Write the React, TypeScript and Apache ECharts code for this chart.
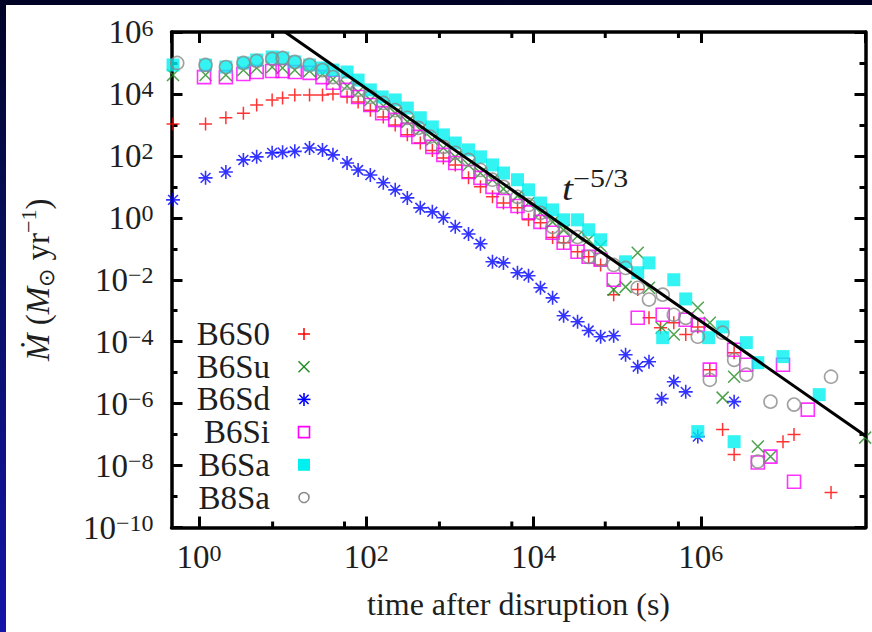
import React, { useEffect, useRef } from 'react';
import * as echarts from 'echarts';

const FONT = '"Liberation Serif", "Times New Roman", serif';
const TEXT = '#1e1e1e';

const SERIES_NAMES = ['B6S0', 'B6Su', 'B6Sd', 'B6Si', 'B6Sa', 'B8Sa'];

// [time after disruption (s), Mdot (Msun/yr)]
const B6S0: [number, number][] = [
  [0.49, 1070], [1.2, 1070], [2.1, 1700], [3.4, 2400], [4.9, 4400], [7.5, 6400], [10, 7400], [14, 9300],
  [21, 9300], [30, 9300], [40, 1.0e4], [59, 8.0e3], [80, 5.5e3], [112, 3.0e3], [160, 1.8e3], [222, 1.0e3],
  [310, 480], [443, 260], [617, 150], [836, 86], [1160, 51], [1670, 19.5], [2320, 10], [3230, 4.75],
  [4370, 3.0], [6430, 2.1], [8710, 0.86], [12100, 0.69], [16900, 0.23], [22900, 0.156], [33600, 0.08],
  [45600, 0.055], [63400, 0.03], [90800, 0.0033], [1.76e5, 0.0048], [2.4e5, 5.9e-4], [3.3e5, 2.8e-4],
  [4.75e5, 4.1e-4], [6.6e5, 1.7e-4], [9.2e5, 3.0e-4], [1.28e6, 1.25e-5], [1.82e6, 1.45e-7], [2.5e6, 4.4e-5],
  [2.5e6, 2.26e-8], [9.6e6, 5.9e-8], [1.3e7, 1.0e-7], [3.6e7, 1.35e-9],
];
const B6Su: [number, number][] = [
  [0.49, 4.1e4], [1.2, 4.1e4], [2.1, 4.1e4], [3.4, 5.9e4], [4.9, 6.9e4], [7.5, 7.4e4], [10, 6.9e4], [14, 5.9e4],
  [21, 5.5e4], [30, 4.4e4], [40, 3.0e4], [59, 1.8e4], [80, 1.16e4], [112, 6.4e3], [160, 4.1e3], [222, 2.4e3],
  [310, 1.25e3], [443, 690], [617, 340], [836, 180], [1160, 93], [1670, 51], [2320, 28], [3230, 17],
  [4370, 8.6], [6430, 5.1], [8710, 3.0], [12100, 1.45], [16900, 0.74], [22900, 0.4], [33600, 0.26],
  [45600, 0.195], [63400, 0.12], [90800, 0.0048], [1.26e5, 0.0059], [1.76e5, 0.074], [2.4e5, 0.0055],
  [3.4e5, 2.8e-4], [4.75e5, 1.7e-4], [9.2e5, 1.25e-3], [1.28e6, 4.1e-4], [1.82e6, 1.56e-6], [2.5e6, 7.4e-6],
  [4.8e6, 4.1e-8], [6.8e6, 1.95e-8], [9.2e7, 8.0e-8],
];
const B6Sd: [number, number][] = [
  [0.49, 3.8], [1.2, 19.5], [2.1, 30], [3.4, 74], [4.9, 93], [7.5, 125], [10, 130], [14, 140], [21, 180],
  [30, 156], [40, 108], [59, 59], [80, 35], [112, 24], [160, 13.5], [222, 8], [310, 4.4], [443, 2.1],
  [617, 1.56], [836, 1.0], [1160, 0.51], [1670, 0.3], [2320, 0.145], [3230, 0.038], [4370, 0.035],
  [6430, 0.0168], [8710, 0.0135], [12100, 0.0055], [16900, 0.0026], [22900, 6.9e-4], [33600, 4.4e-4],
  [45600, 2.3e-4], [63400, 1.45e-4], [90800, 1.56e-4], [1.26e5, 3.8e-5], [1.76e5, 1.56e-5], [2.4e5, 2.26e-5],
  [3.4e5, 1.45e-6], [4.75e5, 5.1e-6], [6.6e5, 2.4e-6], [9.2e5, 8.6e-8], [2.5e6, 1.16e-6],
];
const B6Si: [number, number][] = [
  [0.45, 3.5e4], [1.15, 3.5e4], [2.1, 3.5e4], [3.4, 4.4e4], [4.9, 5.1e4], [7.5, 5.5e4], [10, 5.5e4], [14, 5.1e4],
  [21, 4.8e4], [30, 3.5e4], [40, 2.3e4], [59, 1.35e4], [80, 8.0e3], [112, 4.4e3], [155, 2.4e3], [222, 1.45e3],
  [310, 690], [420, 410], [617, 195], [836, 108], [1160, 59], [1670, 30], [2320, 19.5], [3230, 10],
  [4370, 3.5], [6430, 2.4], [8710, 1.5], [12100, 0.74], [16900, 0.33], [22900, 0.156], [33600, 0.08],
  [45600, 0.055], [63400, 0.044], [90800, 0.01], [1.76e5, 5.9e-4], [3.5e5, 7.4e-4], [6.6e5, 5.1e-4],
  [9.2e5, 3.5e-4], [1.28e6, 1.25e-5], [2.5e6, 5.5e-5], [3.5e6, 1.8e-5], [4.8e6, 1.25e-8], [6.8e6, 1.95e-8],
  [9.6e6, 1.8e-5], [1.3e7, 3.0e-9], [1.9e7, 6.4e-7],
];
const B6Sa: [number, number][] = [
  [0.49, 8.6e4], [1.2, 8.6e4], [2.1, 7.4e4], [3.4, 1.0e5], [4.9, 1.25e5], [7.5, 1.56e5], [10, 1.45e5], [14, 1.08e5],
  [21, 8.6e4], [30, 6.9e4], [40, 5.9e4], [59, 5.1e4], [80, 2.8e4], [112, 1.35e4], [155, 8.0e3], [222, 6.4e3],
  [310, 3.5e3], [443, 1.7e3], [617, 860], [836, 475], [1160, 260], [1670, 156], [2320, 93], [3230, 51],
  [4370, 28], [6430, 17], [8710, 8.0], [12100, 3.0], [16900, 1.8], [22900, 0.86], [33600, 0.86], [45600, 0.41],
  [63400, 0.195], [1.26e5, 0.038], [1.76e5, 0.0168], [2.4e5, 0.035], [3.5e5, 1.35e-4], [4.75e5, 0.01],
  [6.6e5, 0.0024], [9.2e5, 1.25e-7], [1.24e6, 1.35e-4], [1.82e6, 3.0e-4], [2.5e6, 5.9e-8], [3.5e6, 9.3e-5],
  [4.8e6, 2.1e-5], [9.6e6, 3.3e-5], [2.6e7, 1.95e-6],
];
const B8Sa: [number, number][] = [
  [0.55, 1.0e5], [1.2, 8.6e4], [2.1, 7.4e4], [3.4, 1.0e5], [4.9, 1.16e5], [7.5, 1.35e5], [10, 1.45e5], [14, 1.08e5],
  [21, 8.6e4], [30, 5.9e4], [40, 3.5e4], [59, 2.3e4], [80, 1.35e4], [112, 8.0e3], [160, 5.1e3], [222, 3.0e3],
  [310, 1.7e3], [420, 800], [580, 420], [836, 195], [1160, 125], [1670, 74], [2320, 35], [3230, 17],
  [4370, 10], [6430, 4.75], [8710, 2.6], [12100, 1.45], [16900, 0.51], [22900, 0.24], [33600, 0.24],
  [45600, 0.055], [63400, 0.044], [90800, 0.03], [1.26e5, 0.024], [1.76e5, 0.0055], [2.4e5, 0.0023],
  [3.5e5, 0.0033], [4.75e5, 7.4e-4], [6.6e5, 5.9e-4], [9.2e5, 1.45e-4], [1.28e6, 5.9e-6], [1.82e6, 1.95e-4],
  [2.5e6, 2.6e-5], [3.5e6, 8.6e-6], [4.8e6, 1.35e-8], [6.8e6, 1.16e-6], [1.3e7, 9.3e-7], [3.6e7, 7.4e-6],
];
// reference power law drawn as a straight line
const POWER_LAW: [number, number][] = [[10.7, 1e6], [1.0e8, 8.0e-8]];

const X_MIN = 0.47;
const X_MAX = 9.3e7;
const Y_MIN = 1e-10;
const Y_MAX = 1e6;
const X_MINOR_TICKS = [7.6, 55, 750, 5500, 7.2e4, 5.4e5];

const X_TITLE = 'time after disruption (s)';
const Y_TITLE = '{i|\u1E40} ({i|M}{sub|\u2299} yr{sup|\u22121})';
const POWER_LABEL = '{t|t}{s|\u22125/3}';

const L = Math.log10;

const PLUS = 'path://M0,6L12,6M6,0L6,12';
const CROSS = 'path://M0,0L12,12M12,0L0,12';
const STAR = 'path://M0,6L12,6M6,0L6,12M1.8,1.8L10.2,10.2M10.2,1.8L1.8,10.2';

const COLORS = ['#ff0000', '#228b22', '#0000ff', '#ff00ff', '#00f0f0', '#8a8a8a'];

function tickLabel(v: number): string {
  const n = Math.round(v);
  if (Math.abs(v - n) > 1e-6) return '';
  const e = n < 0 ? '\u2212' + -n : String(n);
  return '{a|10}{b|' + e + '}';
}

const labelRich = {
  a: { fontSize: 33, fontFamily: FONT, color: TEXT, lineHeight: 33 },
  b: { fontSize: 24, fontFamily: FONT, color: TEXT, lineHeight: 22, verticalAlign: 'top' },
};

export default function App() {
  const ref = useRef<HTMLDivElement>(null);
  useEffect(() => {
    if (!ref.current) return;
    const chart = echarts.init(ref.current, undefined, { renderer: 'svg' });
    const axisLine = { show: true, onZero: false, lineStyle: { color: '#000', width: 3.5 } };
    const axisTick = { show: true, inside: true, length: 11, lineStyle: { color: '#000', width: 3 } };
    const minorTick = { show: true, splitNumber: 2, length: 6, lineStyle: { color: '#000', width: 3 } };

    const scatter = (i: number, data: [number, number][], symbol: string, size: number, itemStyle: any) => ({
      type: 'scatter',
      name: SERIES_NAMES[i],
      data: data.map(([t, v]) => [L(t), L(v)]),
      symbol,
      symbolSize: size,
      itemStyle,
      silent: true,
      clip: true,
      z: 2 + i,
    });

    chart.setOption({
      animation: false,
      backgroundColor: 'transparent',
      grid: { left: 165.5, right: 6.5, top: 27, bottom: 104.5, containLabel: false },
      xAxis: [
        {
          type: 'value', min: L(X_MIN), max: L(X_MAX), splitNumber: 4,
          axisLine, axisTick, splitLine: { show: false },
          axisLabel: { formatter: tickLabel, rich: labelRich, margin: 13, showMinLabel: false, showMaxLabel: false },
          name: X_TITLE, nameLocation: 'middle', nameGap: 60,
          nameTextStyle: { fontSize: 32, fontFamily: FONT, color: TEXT },
        },
        {
          type: 'value', position: 'top', min: L(X_MIN), max: L(X_MAX), splitNumber: 4,
          axisLine, axisTick, splitLine: { show: false }, axisLabel: { show: false },
        },
      ],
      yAxis: [
        {
          type: 'value', min: L(Y_MIN), max: L(Y_MAX), interval: 2,
          axisLine, axisTick, minorTick, splitLine: { show: false }, minorSplitLine: { show: false },
          axisLabel: { formatter: tickLabel, rich: labelRich, margin: 18 },
          name: Y_TITLE, nameLocation: 'middle', nameGap: 114, nameRotate: 90,
          nameTextStyle: {
            fontSize: 33, fontFamily: FONT, color: TEXT, lineHeight: 40,
            rich: {
              i: { fontSize: 33, fontFamily: FONT, fontStyle: 'italic', color: TEXT, lineHeight: 40 },
              sub: { fontSize: 22, fontFamily: FONT, color: TEXT, lineHeight: 22, verticalAlign: 'bottom' },
              sup: { fontSize: 22, fontFamily: FONT, color: TEXT, lineHeight: 22, verticalAlign: 'top' },
            },
          },
        },
        {
          type: 'value', position: 'right', min: L(Y_MIN), max: L(Y_MAX), interval: 2,
          axisLine, axisTick, minorTick, splitLine: { show: false }, axisLabel: { show: false },
        },
      ],
      series: [
        scatter(0, B6S0, PLUS, 13, { color: 'none', borderColor: COLORS[0], borderWidth: 1.5 }),
        scatter(1, B6Su, CROSS, 12, { color: 'none', borderColor: COLORS[1], borderWidth: 1.5 }),
        scatter(2, B6Sd, STAR, 14, { color: 'none', borderColor: COLORS[2], borderWidth: 1.6 }),
        scatter(3, B6Si, 'rect', 13, { color: 'rgba(0,0,0,0)', borderColor: COLORS[3], borderWidth: 1.6 }),
        scatter(4, B6Sa, 'rect', 13, { color: COLORS[4], borderWidth: 0 }),
        scatter(5, B8Sa, 'circle', 13, { color: 'rgba(0,0,0,0)', borderColor: COLORS[5], borderWidth: 1.6 }),
        {
          type: 'line', name: 't^-5/3', data: POWER_LAW.map(([t, v]) => [L(t), L(v)]),
          showSymbol: false, symbol: 'none', clip: true, silent: true, z: 10,
          lineStyle: { color: '#000', width: 3 },
        },
      ],
    });

    // minor ticks on the x axes and the legend / annotation
    const els: any[] = [];
    const yB = chart.convertToPixel({ yAxisIndex: 0 }, L(Y_MIN)) as number;
    const yT = chart.convertToPixel({ yAxisIndex: 0 }, L(Y_MAX)) as number;
    X_MINOR_TICKS.forEach((t) => {
      const x = chart.convertToPixel({ xAxisIndex: 0 }, L(t)) as number;
      els.push({ type: 'line', shape: { x1: x, y1: yB, x2: x, y2: yB - 6 }, style: { stroke: '#000', lineWidth: 3 }, z: 5 });
      els.push({ type: 'line', shape: { x1: x, y1: yT, x2: x, y2: yT + 6 }, style: { stroke: '#000', lineWidth: 3 }, z: 5 });
    });

    const legendTextX = 264;
    const legendSymX = 298;
    const rows = [329, 361.7, 394.4, 427.1, 459.8, 492.5];
    const symbolShapes: any[][] = [
      [
        { type: 'line', shape: { x1: -6, y1: 0, x2: 6, y2: 0 }, style: { stroke: COLORS[0], lineWidth: 1.5 } },
        { type: 'line', shape: { x1: 0, y1: -6, x2: 0, y2: 6 }, style: { stroke: COLORS[0], lineWidth: 1.5 } },
      ],
      [
        { type: 'line', shape: { x1: -5.5, y1: -5.5, x2: 5.5, y2: 5.5 }, style: { stroke: COLORS[1], lineWidth: 1.5 } },
        { type: 'line', shape: { x1: 5.5, y1: -5.5, x2: -5.5, y2: 5.5 }, style: { stroke: COLORS[1], lineWidth: 1.5 } },
      ],
      [
        { type: 'line', shape: { x1: -6.5, y1: 0, x2: 6.5, y2: 0 }, style: { stroke: COLORS[2], lineWidth: 1.6 } },
        { type: 'line', shape: { x1: 0, y1: -6.5, x2: 0, y2: 6.5 }, style: { stroke: COLORS[2], lineWidth: 1.6 } },
        { type: 'line', shape: { x1: -4.6, y1: -4.6, x2: 4.6, y2: 4.6 }, style: { stroke: COLORS[2], lineWidth: 1.6 } },
        { type: 'line', shape: { x1: 4.6, y1: -4.6, x2: -4.6, y2: 4.6 }, style: { stroke: COLORS[2], lineWidth: 1.6 } },
      ],
      [{ type: 'rect', shape: { x: -5.5, y: -5.5, width: 11, height: 11 }, style: { fill: 'none', stroke: COLORS[3], lineWidth: 1.6 } }],
      [{ type: 'rect', shape: { x: -6, y: -6, width: 12, height: 12 }, style: { fill: COLORS[4] } }],
      [{ type: 'circle', shape: { cx: 0, cy: 0, r: 5 }, style: { fill: 'none', stroke: COLORS[5], lineWidth: 1.6 } }],
    ];
    SERIES_NAMES.forEach((name, i) => {
      els.push({
        type: 'text', x: legendTextX, y: rows[i], z: 20,
        style: { text: name, fontSize: 33, fontFamily: FONT, fill: TEXT, align: 'right', verticalAlign: 'middle' },
      });
      els.push({ type: 'group', x: legendSymX, y: rows[i], z: 20, children: symbolShapes[i] });
    });

    els.push({
      type: 'text', x: 556, y: 184, z: 20, scaleX: 1.2,
      style: {
        text: POWER_LABEL, fill: TEXT, align: 'left', verticalAlign: 'middle',
        rich: {
          t: { fontSize: 33, fontFamily: FONT, fontStyle: 'italic', fill: TEXT, lineHeight: 46 },
          s: { fontSize: 25, fontFamily: FONT, fill: TEXT, lineHeight: 25, verticalAlign: 'top' },
        },
      },
    });

    chart.setOption({ graphic: { elements: els } });

    return () => chart.dispose();
  }, []);

  return (
    <div
      style={{
        position: 'fixed', left: 0, top: 0, width: 872, height: 632, overflow: 'hidden',
        background: 'linear-gradient(to bottom, #010326 0%, #070f58 35%, #1414a8 100%)',
      }}
    >
      <div
        ref={ref}
        style={{ position: 'absolute', left: 6, top: 5, width: 866, height: 627, background: '#ffffff' }}
      />
    </div>
  );
}
